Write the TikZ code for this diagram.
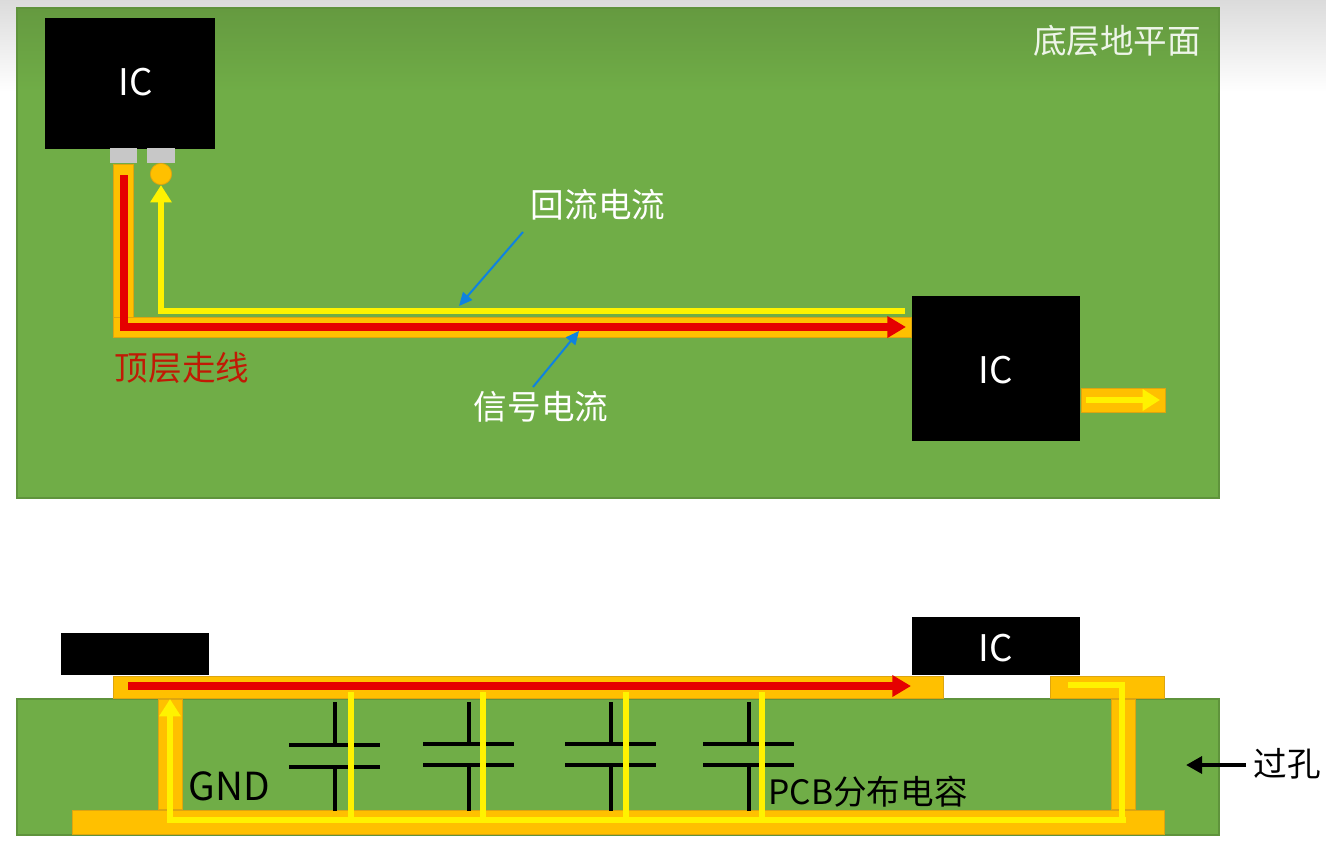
\documentclass[tikz,border=0pt]{standalone}
\usepackage{fontspec}
\setmainfont{Noto Sans CJK SC}
\usetikzlibrary{arrows.meta,positioning}
\definecolor{pcbgreen}{HTML}{70AD47}
\definecolor{pcbdark}{HTML}{659A40}
\definecolor{copper}{HTML}{FFC000}
\definecolor{copperedge}{HTML}{DDA510}
\definecolor{toplabel}{HTML}{C01A05}
\definecolor{callout}{HTML}{0F82E0}
\tikzset{
  plate/.style={rectangle,inner sep=0pt,fill=pcbgreen,draw=pcbgreen!85!black,line width=0.8pt},
  chip/.style={rectangle,inner sep=0pt,fill=black},
  chiptext/.style={inner sep=0pt,text=white,font=\fontsize{27.5}{28}\selectfont},
  metal/.style={rectangle,inner sep=0pt,fill=copper,draw=copperedge,line width=0.6pt},
  pin/.style={rectangle,inner sep=0pt,fill=black!22,minimum width=20.5pt,minimum height=11.5pt},
  label/.style={inner sep=0pt,font=\fontsize{25.2}{26}\selectfont},
  signal/.style={red!90!black,line width=6pt,-{Triangle[width=15.5pt,length=14pt]}},
  return/.style={yellow,line width=5pt,-{Triangle[width=15.5pt,length=13pt]}},
  returnline/.style={yellow,line width=5pt},
  capline/.style={black,line width=3.2pt},
  pointer/.style={callout,line width=1.5pt,-{Triangle[width=9pt,length=10pt]}}
}
\begin{document}
\begin{tikzpicture}[x=0.75pt,y=-0.75pt]
\useasboundingbox (0,0) rectangle (1326,843);
\shade[top color=black!14,bottom color=white] (0,0) rectangle (1326,92);

% top view
\node[plate,minimum width=901.5pt,minimum height=367.5pt] (board) at (618,253) {};
\shade[top color=pcbdark,bottom color=pcbgreen] (18,9) rectangle (1218,92);

\node[metal,minimum width=15.5pt,minimum height=129pt] (traceA) at (123.5,250.5) {};
\node[metal,minimum width=599pt,minimum height=15.5pt] (traceB) at (512.5,327.5) {};
\node[chip,minimum width=127pt,minimum height=98pt] (ic1) at (130,83.5) {};
\node[chiptext] (ic1Text) at (136,82) {IC};
\node[chip,minimum width=126pt,minimum height=109pt] (ic2) at (996,368.5) {};
\node[chiptext] (ic2Text) at (996,370) {IC};
\node[pin] (pin1) at (123.5,155.5) {};
\node[pin] (pin2) at (161,155.5) {};
\node[circle,inner sep=0pt,minimum size=16pt,fill=copper,draw=copperedge,line width=0.6pt] (via) at (161,174) {};
\node[metal,minimum width=63pt,minimum height=18.5pt] (padOut) at (1123,400.5) {};

\coordinate (redStart) at (124,175);
\coordinate (redCorner) at (124,327);
\coordinate (redEnd) at (906,327);
\coordinate (yelCorner) at (161,311);
\coordinate (yelEnd) at (905,311);
\coordinate (outStart) at (1086,400);
\coordinate (outEnd) at (1160,400);

\draw[signal] (redStart) -- (redCorner) -- (redEnd);
\draw[return] (yelEnd) -- (yelCorner) -- (via.south);
\draw[return] (outStart) -- (outEnd);

\node[label,text=white!88!pcbgreen] (planeText) at (1117,41) {底层地平面};
\node[label,text=white] (returnText) at (598,205) {回流电流};
\node[label,text=toplabel] (traceText) at (182,368) {顶层走线};
\node[label,text=white] (signalText) at (541,407) {信号电流};

\coordinate (returnTip) at (459,306);
\coordinate (returnTail) at (523,232);
\coordinate (signalTip) at (579,331);
\coordinate (signalTail) at (533,387);
\draw[pointer] (returnTail) -- (returnTip);
\draw[pointer] (signalTail) -- (signalTip);

% side view
\node[plate,minimum width=901.5pt,minimum height=102pt] (side) at (618,767) {};
\node[metal,minimum width=18.5pt,minimum height=83pt] (viaL) at (170.5,754.5) {};
\node[metal,minimum width=17.5pt,minimum height=83pt] (viaR) at (1123.5,754.5) {};
\node[metal,minimum width=819pt,minimum height=18.5pt] (plane) at (618,822.5) {};
\node[metal,minimum width=623pt,minimum height=16.5pt] (traceS) at (528.5,687) {};
\node[metal,minimum width=86pt,minimum height=16.5pt] (padR) at (1107.5,687) {};
\node[chip,minimum width=111pt,minimum height=31pt] (ic3) at (135,654) {};
\node[chip,minimum width=126pt,minimum height=43.5pt] (ic4) at (996,646) {};
\node[chiptext] (ic4Text) at (996,648) {IC};

% capacitors
\foreach \cname/\cx/\ya/\yb in {capA/335/745/767,capB/469/744/765,capC/611/744/765,capD/749/744/765}{
  \coordinate (\cname T) at (\cx,702);
  \coordinate (\cname B) at (\cx,811);
  \coordinate (\cname U) at (\cx,\ya);
  \coordinate (\cname D) at (\cx,\yb);
  \draw[capline] (\cname T) -- (\cname U);
  \draw[capline] (\cname D) -- (\cname B);
  \draw[capline] ([xshift=-34.5pt]\cname U) -- ([xshift=34pt]\cname U);
  \draw[capline] ([xshift=-34.5pt]\cname D) -- ([xshift=34pt]\cname D);
}

\coordinate (sigS) at (128,686);
\coordinate (sigE) at (911,686);
\draw[signal] (sigS) -- (sigE);

\coordinate (retL) at (170,820);
\coordinate (retLTip) at (170,699);
\coordinate (retR) at (1126,820);
\coordinate (retUp) at (1122,820);
\coordinate (retCorner) at (1122,685);
\coordinate (retPad) at (1068,685);
\draw[return] (retR) -- (retL) -- (retLTip);
\draw[returnline] (retUp) -- (retCorner) -- (retPad);
\foreach \lname/\lx in {linkA/351,linkB/483,linkC/626,linkD/762}{
  \coordinate (\lname T) at (\lx,692);
  \coordinate (\lname B) at (\lx,820);
  \draw[yellow,line width=4.2pt] (\lname T) -- (\lname B);
}

\node[label,text=black,font=\fontsize{29}{30}\selectfont] (gndText) at (229,786) {GND};
\node[label,text=black,font=\fontsize{25.2}{26}\selectfont] (capText) at (868,792) {PCB分布电容};
\node[label,text=black] (viaText) at (1287,764) {过孔};
\coordinate (viaTip) at (1186,765);
\coordinate (viaTail) at (1246,765);
\draw[black,line width=3pt,-{Triangle[width=12.5pt,length=12pt]}] (viaTail) -- (viaTip);

\end{tikzpicture}
\end{document}
